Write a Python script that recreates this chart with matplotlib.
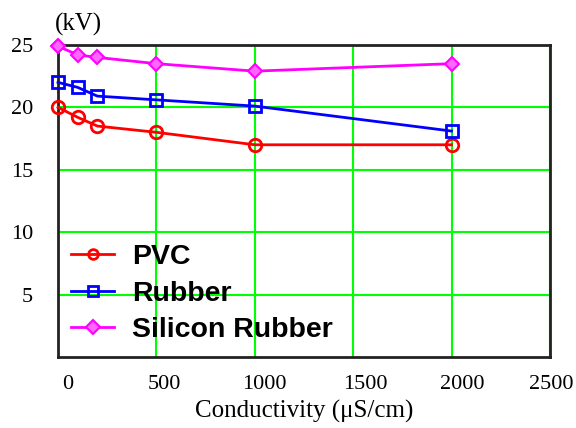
import matplotlib
matplotlib.use('Agg')
import matplotlib.pyplot as plt
import matplotlib.transforms as mtransforms

conductivity = [0, 100, 200, 500, 1000, 2000]
pvc = [20.0, 19.2, 18.5, 18.0, 17.0, 17.0]
rubber = [22.0, 21.6, 20.9, 20.6, 20.1, 18.1]
silicon = [24.9, 24.2, 24.0, 23.5, 22.9, 23.5]

x_ticks = [0, 500, 1000, 1500, 2000, 2500]
y_ticks = [5, 10, 15, 20, 25]

serif = 'Liberation Serif'
sans = 'Liberation Sans'

fig = plt.figure(figsize=(5.76, 4.28), dpi=100)
ax = fig.add_axes([0.1007, 0.166, 0.854, 0.729])

ax.plot(conductivity, pvc, color='#ff0000', lw=2, marker='o', ms=9,
        mfc='none', mew=2, label='PVC', clip_on=False, zorder=3)
ax.plot(conductivity, rubber, color='#0000ff', lw=2, marker='s', ms=8,
        mfc='none', mew=2, label='Rubber', clip_on=False, zorder=3)
ax.plot(conductivity, silicon, color='#ff00ff', lw=2, marker='D', ms=7,
        mfc='#ff66ff', mew=1.5, label='Silicon Rubber', clip_on=False, zorder=3)

ax.set_xlim(0, 2500)
ax.set_ylim(0, 25)
ax.set_xticks(x_ticks)
ax.set_yticks(y_ticks)
ax.grid(True, color='#00ff00', lw=1.5)
ax.set_axisbelow(True)
for s in ax.spines.values():
    s.set_linewidth(2)
    s.set_color('#222222')

ax.tick_params(length=0, labelsize=16, pad=13)
ax.tick_params(axis='y', pad=18)
for lab in ax.get_xticklabels() + ax.get_yticklabels():
    lab.set_fontfamily(serif)
# labels in the original sit a bit to the right of their grid lines
for lab, dx in zip(ax.get_xticklabels(), [10, 8, 10, 12, 11, 1]):
    shift = mtransforms.ScaledTranslation(dx / 100, 0, fig.dpi_scale_trans)
    lab.set_transform(lab.get_transform() + shift)

ax.set_xlabel('Conductivity (\u03bcS/cm)', fontfamily=serif, fontsize=18, labelpad=4)
fig.text(0.095, 0.942, '(kV)', fontfamily=serif, fontsize=18, va='center')

leg = ax.legend(loc='lower left', bbox_to_anchor=(0.027, 0.045), frameon=False,
                prop={'family': sans, 'weight': 'bold', 'size': 20.5},
                handlelength=1.5, handletextpad=0.62, labelspacing=0.36,
                borderpad=0, borderaxespad=0)
for h in leg.legend_handles:
    h.set_markersize(7)

fig.savefig('out.png', dpi=100)
